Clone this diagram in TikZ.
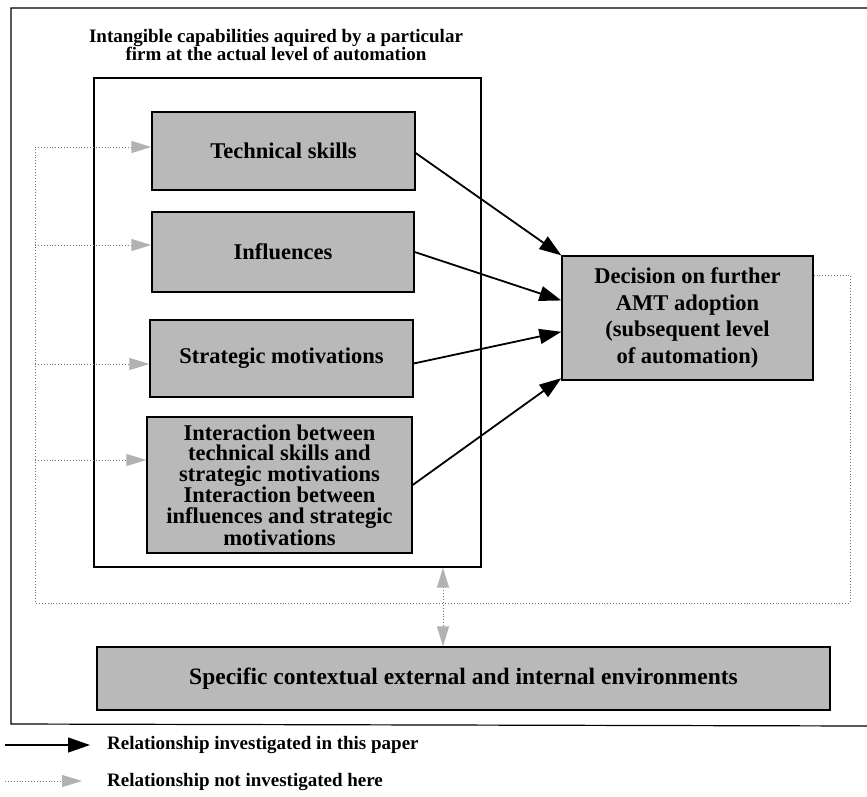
\documentclass[tikz,border=0pt]{standalone}
\usepackage{fontspec}
\setmainfont{Liberation Serif}
\usetikzlibrary{arrows.meta,calc}
\definecolor{boxgray}{RGB}{185,185,185}
\definecolor{dotgray}{RGB}{120,120,120}
\definecolor{headgray}{RGB}{178,178,178}
\tikzset{
  capbox/.style={draw=black, line width=1.3pt, fill=boxgray, align=center,
    font=\fontsize{22.5}{20.5}\selectfont\bfseries, inner sep=2pt},
  solidarrow/.style={line width=1.8pt, -{Triangle[length=22pt,width=15pt]}},
  dotline/.style={draw=dotgray, dotted, line width=0.9pt},
  dotarrow/.style={dotline, -{Triangle[length=20pt,width=12pt,fill=headgray,color=headgray]}},
  dotboth/.style={dotline, {Triangle[length=20pt,width=12pt,fill=headgray,color=headgray]}-{Triangle[length=20pt,width=12pt,fill=headgray,color=headgray]}},
  frame/.style={draw=black, line width=1.2pt},
  legendtext/.style={anchor=west, font=\fontsize{19}{21}\selectfont\bfseries, inner sep=0pt}
}
\begin{document}
\begin{tikzpicture}[x=1pt,y=-1pt]
\useasboundingbox (0,0) rectangle (867,796);
% outer frame (open on the right)
\draw[frame] (870,8) -- (11,8) -- (11,724) -- (870,726);
% title
\node[align=center, font=\fontsize{19}{17}\selectfont\bfseries, inner sep=0pt] (title) at (276,45)
  {Intangible capabilities aquired by a particular\\firm at the actual level of automation};
% inner capability box
\node[draw=black, line width=1.3pt, minimum width=387pt, minimum height=489pt, inner sep=0pt] (inner) at (287.5,322.5) {};
% capability boxes
\node[capbox, minimum width=263pt, minimum height=78pt] (tech) at (283.5,151) {Technical skills};
\node[capbox, minimum width=262pt, minimum height=80pt] (infl) at (283,252) {Influences};
\node[capbox, minimum width=263pt, minimum height=77pt] (strat) at (281.5,358.5) {Strategic motivations};
\node[capbox, minimum width=265pt, minimum height=136pt] (inter) at (279.5,485)
  {Interaction between\\technical skills and\\strategic motivations\\Interaction between\\influences and strategic\\motivations};
% decision box
\node[capbox, font=\fontsize{22.5}{26.5}\selectfont\bfseries, minimum width=251pt, minimum height=124pt] (dec) at (687.5,318)
  {Decision on further\\AMT adoption\\(subsequent level\\of automation)};
% environment box
\node[capbox, font=\fontsize{23.5}{24}\selectfont\bfseries, minimum width=733pt, minimum height=63pt] (env) at (463.5,678.5)
  {Specific contextual external and internal environments};
% solid arrows
\draw[solidarrow] ([yshift=-2pt]tech.east) -- (dec.north west);
\draw[solidarrow] (infl.east) -- ($(dec.north west)!0.36!(dec.south west)$);
\draw[solidarrow] ([yshift=-5pt]strat.east) -- ($(dec.north west)!0.61!(dec.south west)$);
\draw[solidarrow] (inter.east) -- ($(dec.north west)!0.98!(dec.south west)$);
% feedback dotted loop
\coordinate (fbR) at (850,275);
\coordinate (fbB) at (850,603);
\coordinate (fbL) at (35,603);
\coordinate (fbT) at (35,147);
\coordinate (vx) at (443,0);
\draw[dotline] ([yshift=43pt]dec.east) -- (fbR) -- (fbB) -- (fbL) -- (fbT);
\draw[dotarrow] (fbT) -- (tech.west |- fbT);
\draw[dotarrow] ([yshift=7pt]infl.west -| fbL) -- ([yshift=7pt]infl.west);
\draw[dotarrow] ([yshift=-5.5pt]strat.west -| fbL) -- ([yshift=-5.5pt]strat.west);
\draw[dotarrow] ([yshift=25pt]inter.west -| fbL) -- ([yshift=25pt]inter.west);
% vertical two-headed dotted arrow
\draw[dotboth] (inner.south -| vx) -- (env.north -| vx);
% legend
\coordinate (l1a) at (5,745);
\coordinate (l1b) at (90,745);
\coordinate (l2a) at (5,781);
\coordinate (l2b) at (82,781);
\draw[solidarrow, line width=1.2pt] (l1a) -- (l1b);
\draw[dotarrow] (l2a) -- (l2b);
\node[legendtext] (leg1) at (107,745) {Relationship investigated in this paper};
\node[legendtext] (leg2) at (107,782) {Relationship not investigated here};
\end{tikzpicture}
\end{document}
